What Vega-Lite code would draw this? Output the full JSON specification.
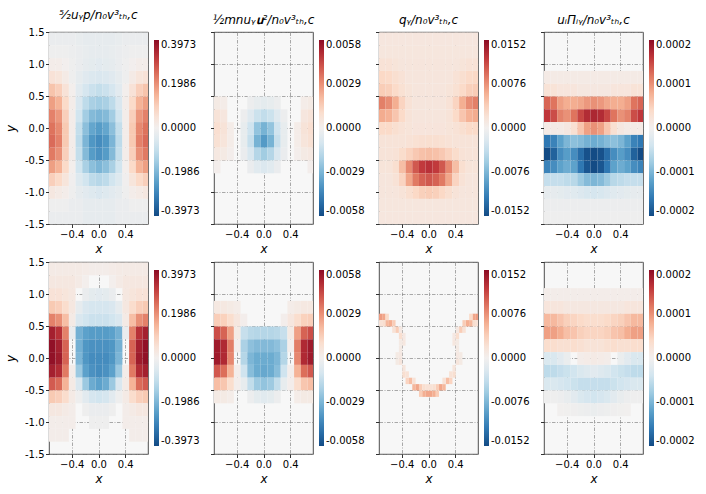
{
  "$schema": "https://vega.github.io/schema/vega-lite/v6.json",
  "background": "white",
  "padding": {"left": 4, "top": 8, "right": 5, "bottom": 5},
  "columns": 4,
  "spacing": {"row": 38, "column": 66},
  "bounds": "flush",
  "resolve": {"scale": {"color": "independent"}, "legend": {"color": "independent"}},
  "config": {
    "font": "DejaVu Sans",
    "view": {"stroke": "#222", "strokeWidth": 0.8, "fill": "#f7f7f7"},
    "rect": {"binSpacing": 0},
    "bar": {"binSpacing": 0},
    "axis": {
      "labelFont": "DejaVu Sans", "labelFontSize": 10, "labelColor": "#000",
      "labelPadding": 1.5, "labelFlush": false,
      "tickColor": "#000", "tickSize": 3.5, "tickWidth": 0.8,
      "domain": false, "grid": true, "gridColor": "#888", "gridDash": [3.5, 1.5, 1, 1.5],
      "gridWidth": 0.8, "gridOpacity": 0.9, "zindex": 1,
      "titleFont": "DejaVu Sans", "titleFontSize": 12, "titleFontWeight": "normal",
      "titleFontStyle": "italic", "titleColor": "#000", "titlePadding": 4
    },
    "legend": {"labelFont": "DejaVu Sans", "labelFontSize": 10, "labelColor": "#000", "gradientStrokeWidth": 0, "labelOffset": 5, "labelBaseline": "middle"},
    "title": {"font": "DejaVu Sans", "fontSize": 12, "fontWeight": "normal", "fontStyle": "italic", "color": "#000", "offset": 5}
  },
  "datasets": {
    "d1": [
      {"x":-0.75,"y":1.3,"v":-0.02},{"x":-0.65,"y":1.3,"v":-0.02},{"x":-0.55,"y":1.3,"v":-0.02},{"x":-0.45,"y":1.3,"v":-0.02},{"x":-0.35,"y":1.3,"v":-0.025},{"x":-0.25,"y":1.3,"v":-0.03},{"x":-0.15,"y":1.3,"v":-0.03},{"x":-0.05,"y":1.3,"v":-0.03},{"x":0.05,"y":1.3,"v":-0.03},{"x":0.15,"y":1.3,"v":-0.03},{"x":0.25,"y":1.3,"v":-0.025},{"x":0.35,"y":1.3,"v":-0.02},{"x":0.45,"y":1.3,"v":-0.02},{"x":0.55,"y":1.3,"v":-0.02},{"x":0.65,"y":1.3,"v":-0.02},
      {"x":-0.75,"y":1.1,"v":-0.01},{"x":-0.65,"y":1.1,"v":-0.01},{"x":-0.55,"y":1.1,"v":-0.01},{"x":-0.45,"y":1.1,"v":-0.015},{"x":-0.35,"y":1.1,"v":-0.02},{"x":-0.25,"y":1.1,"v":-0.025},{"x":-0.15,"y":1.1,"v":-0.03},{"x":-0.05,"y":1.1,"v":-0.03},{"x":0.05,"y":1.1,"v":-0.03},{"x":0.15,"y":1.1,"v":-0.025},{"x":0.25,"y":1.1,"v":-0.02},{"x":0.35,"y":1.1,"v":-0.015},{"x":0.45,"y":1.1,"v":-0.01},{"x":0.55,"y":1.1,"v":-0.01},{"x":0.65,"y":1.1,"v":-0.01},
      {"x":-0.75,"y":0.9,"v":0.01},{"x":-0.65,"y":0.9,"v":0.01},{"x":-0.55,"y":0.9,"v":0.002},{"x":-0.45,"y":0.9,"v":-0.01},{"x":-0.35,"y":0.9,"v":-0.02},{"x":-0.25,"y":0.9,"v":-0.03},{"x":-0.15,"y":0.9,"v":-0.035},{"x":-0.05,"y":0.9,"v":-0.04},{"x":0.05,"y":0.9,"v":-0.035},{"x":0.15,"y":0.9,"v":-0.03},{"x":0.25,"y":0.9,"v":-0.02},{"x":0.35,"y":0.9,"v":-0.01},{"x":0.45,"y":0.9,"v":0.002},{"x":0.55,"y":0.9,"v":0.01},{"x":0.65,"y":0.9,"v":0.01},
      {"x":-0.75,"y":0.7,"v":0.05},{"x":-0.65,"y":0.7,"v":0.04},{"x":-0.55,"y":0.7,"v":0.02},{"x":-0.45,"y":0.7,"v":-0.01},{"x":-0.35,"y":0.7,"v":-0.03},{"x":-0.25,"y":0.7,"v":-0.045},{"x":-0.15,"y":0.7,"v":-0.055},{"x":-0.05,"y":0.7,"v":-0.06},{"x":0.05,"y":0.7,"v":-0.055},{"x":0.15,"y":0.7,"v":-0.045},{"x":0.25,"y":0.7,"v":-0.03},{"x":0.35,"y":0.7,"v":-0.01},{"x":0.45,"y":0.7,"v":0.02},{"x":0.55,"y":0.7,"v":0.04},{"x":0.65,"y":0.7,"v":0.05},
      {"x":-0.75,"y":0.5,"v":0.12},{"x":-0.65,"y":0.5,"v":0.1},{"x":-0.55,"y":0.5,"v":0.05},{"x":-0.45,"y":0.5,"v":0.005},{"x":-0.35,"y":0.5,"v":-0.04},{"x":-0.25,"y":0.5,"v":-0.07},{"x":-0.15,"y":0.5,"v":-0.09},{"x":-0.05,"y":0.5,"v":-0.1},{"x":0.05,"y":0.5,"v":-0.09},{"x":0.15,"y":0.5,"v":-0.07},{"x":0.25,"y":0.5,"v":-0.04},{"x":0.35,"y":0.5,"v":0.005},{"x":0.45,"y":0.5,"v":0.05},{"x":0.55,"y":0.5,"v":0.1},{"x":0.65,"y":0.5,"v":0.12},
      {"x":-0.75,"y":0.3,"v":0.18},{"x":-0.65,"y":0.3,"v":0.15},{"x":-0.55,"y":0.3,"v":0.08},{"x":-0.45,"y":0.3,"v":0.01},{"x":-0.35,"y":0.3,"v":-0.06},{"x":-0.25,"y":0.3,"v":-0.11},{"x":-0.15,"y":0.3,"v":-0.14},{"x":-0.05,"y":0.3,"v":-0.15},{"x":0.05,"y":0.3,"v":-0.14},{"x":0.15,"y":0.3,"v":-0.11},{"x":0.25,"y":0.3,"v":-0.06},{"x":0.35,"y":0.3,"v":0.01},{"x":0.45,"y":0.3,"v":0.08},{"x":0.55,"y":0.3,"v":0.15},{"x":0.65,"y":0.3,"v":0.18},
      {"x":-0.75,"y":0.1,"v":0.22},{"x":-0.65,"y":0.1,"v":0.19},{"x":-0.55,"y":0.1,"v":0.1},{"x":-0.45,"y":0.1,"v":0.01},{"x":-0.35,"y":0.1,"v":-0.08},{"x":-0.25,"y":0.1,"v":-0.15},{"x":-0.15,"y":0.1,"v":-0.19},{"x":-0.05,"y":0.1,"v":-0.2},{"x":0.05,"y":0.1,"v":-0.19},{"x":0.15,"y":0.1,"v":-0.15},{"x":0.25,"y":0.1,"v":-0.08},{"x":0.35,"y":0.1,"v":0.01},{"x":0.45,"y":0.1,"v":0.1},{"x":0.55,"y":0.1,"v":0.19},{"x":0.65,"y":0.1,"v":0.22},
      {"x":-0.75,"y":-0.1,"v":0.24},{"x":-0.65,"y":-0.1,"v":0.21},{"x":-0.55,"y":-0.1,"v":0.11},{"x":-0.45,"y":-0.1,"v":0.01},{"x":-0.35,"y":-0.1,"v":-0.1},{"x":-0.25,"y":-0.1,"v":-0.18},{"x":-0.15,"y":-0.1,"v":-0.23},{"x":-0.05,"y":-0.1,"v":-0.25},{"x":0.05,"y":-0.1,"v":-0.23},{"x":0.15,"y":-0.1,"v":-0.18},{"x":0.25,"y":-0.1,"v":-0.1},{"x":0.35,"y":-0.1,"v":0.01},{"x":0.45,"y":-0.1,"v":0.11},{"x":0.55,"y":-0.1,"v":0.21},{"x":0.65,"y":-0.1,"v":0.24},
      {"x":-0.75,"y":-0.3,"v":0.25},{"x":-0.65,"y":-0.3,"v":0.22},{"x":-0.55,"y":-0.3,"v":0.11},{"x":-0.45,"y":-0.3,"v":0.01},{"x":-0.35,"y":-0.3,"v":-0.11},{"x":-0.25,"y":-0.3,"v":-0.2},{"x":-0.15,"y":-0.3,"v":-0.26},{"x":-0.05,"y":-0.3,"v":-0.28},{"x":0.05,"y":-0.3,"v":-0.26},{"x":0.15,"y":-0.3,"v":-0.2},{"x":0.25,"y":-0.3,"v":-0.11},{"x":0.35,"y":-0.3,"v":0.01},{"x":0.45,"y":-0.3,"v":0.11},{"x":0.55,"y":-0.3,"v":0.22},{"x":0.65,"y":-0.3,"v":0.25},
      {"x":-0.75,"y":-0.5,"v":0.23},{"x":-0.65,"y":-0.5,"v":0.2},{"x":-0.55,"y":-0.5,"v":0.1},{"x":-0.45,"y":-0.5,"v":0.01},{"x":-0.35,"y":-0.5,"v":-0.1},{"x":-0.25,"y":-0.5,"v":-0.19},{"x":-0.15,"y":-0.5,"v":-0.25},{"x":-0.05,"y":-0.5,"v":-0.27},{"x":0.05,"y":-0.5,"v":-0.25},{"x":0.15,"y":-0.5,"v":-0.19},{"x":0.25,"y":-0.5,"v":-0.1},{"x":0.35,"y":-0.5,"v":0.01},{"x":0.45,"y":-0.5,"v":0.1},{"x":0.55,"y":-0.5,"v":0.2},{"x":0.65,"y":-0.5,"v":0.23},
      {"x":-0.75,"y":-0.7,"v":0.18},{"x":-0.65,"y":-0.7,"v":0.15},{"x":-0.55,"y":-0.7,"v":0.08},{"x":-0.45,"y":-0.7,"v":0.005},{"x":-0.35,"y":-0.7,"v":-0.08},{"x":-0.25,"y":-0.7,"v":-0.14},{"x":-0.15,"y":-0.7,"v":-0.18},{"x":-0.05,"y":-0.7,"v":-0.2},{"x":0.05,"y":-0.7,"v":-0.18},{"x":0.15,"y":-0.7,"v":-0.14},{"x":0.25,"y":-0.7,"v":-0.08},{"x":0.35,"y":-0.7,"v":0.005},{"x":0.45,"y":-0.7,"v":0.08},{"x":0.55,"y":-0.7,"v":0.15},{"x":0.65,"y":-0.7,"v":0.18},
      {"x":-0.75,"y":-0.9,"v":0.1},{"x":-0.65,"y":-0.9,"v":0.08},{"x":-0.55,"y":-0.9,"v":0.04},{"x":-0.45,"y":-0.9,"v":-0.005},{"x":-0.35,"y":-0.9,"v":-0.05},{"x":-0.25,"y":-0.9,"v":-0.08},{"x":-0.15,"y":-0.9,"v":-0.11},{"x":-0.05,"y":-0.9,"v":-0.12},{"x":0.05,"y":-0.9,"v":-0.11},{"x":0.15,"y":-0.9,"v":-0.08},{"x":0.25,"y":-0.9,"v":-0.05},{"x":0.35,"y":-0.9,"v":-0.005},{"x":0.45,"y":-0.9,"v":0.04},{"x":0.55,"y":-0.9,"v":0.08},{"x":0.65,"y":-0.9,"v":0.1},
      {"x":-0.75,"y":-1.1,"v":0.03},{"x":-0.65,"y":-1.1,"v":0.02},{"x":-0.55,"y":-1.1,"v":0.01},{"x":-0.45,"y":-1.1,"v":-0.01},{"x":-0.35,"y":-1.1,"v":-0.03},{"x":-0.25,"y":-1.1,"v":-0.04},{"x":-0.15,"y":-1.1,"v":-0.05},{"x":-0.05,"y":-1.1,"v":-0.06},{"x":0.05,"y":-1.1,"v":-0.05},{"x":0.15,"y":-1.1,"v":-0.04},{"x":0.25,"y":-1.1,"v":-0.03},{"x":0.35,"y":-1.1,"v":-0.01},{"x":0.45,"y":-1.1,"v":0.01},{"x":0.55,"y":-1.1,"v":0.02},{"x":0.65,"y":-1.1,"v":0.03},
      {"x":-0.75,"y":-1.3,"v":-0.01},{"x":-0.65,"y":-1.3,"v":-0.01},{"x":-0.55,"y":-1.3,"v":-0.01},{"x":-0.45,"y":-1.3,"v":-0.02},{"x":-0.35,"y":-1.3,"v":-0.02},{"x":-0.25,"y":-1.3,"v":-0.03},{"x":-0.15,"y":-1.3,"v":-0.03},{"x":-0.05,"y":-1.3,"v":-0.03},{"x":0.05,"y":-1.3,"v":-0.03},{"x":0.15,"y":-1.3,"v":-0.03},{"x":0.25,"y":-1.3,"v":-0.02},{"x":0.35,"y":-1.3,"v":-0.02},{"x":0.45,"y":-1.3,"v":-0.01},{"x":0.55,"y":-1.3,"v":-0.01},{"x":0.65,"y":-1.3,"v":-0.01},
      {"x":-0.75,"y":-1.5,"v":-0.02},{"x":-0.65,"y":-1.5,"v":-0.02},{"x":-0.55,"y":-1.5,"v":-0.02},{"x":-0.45,"y":-1.5,"v":-0.02},{"x":-0.35,"y":-1.5,"v":-0.02},{"x":-0.25,"y":-1.5,"v":-0.03},{"x":-0.15,"y":-1.5,"v":-0.03},{"x":-0.05,"y":-1.5,"v":-0.03},{"x":0.05,"y":-1.5,"v":-0.03},{"x":0.15,"y":-1.5,"v":-0.03},{"x":0.25,"y":-1.5,"v":-0.02},{"x":0.35,"y":-1.5,"v":-0.02},{"x":0.45,"y":-1.5,"v":-0.02},{"x":0.55,"y":-1.5,"v":-0.02},{"x":0.65,"y":-1.5,"v":-0.02}
    ],
    "d2": [
      {"x":-0.75,"y":0.3,"v":0.0003},{"x":-0.65,"y":0.3,"v":0.0002},{"x":-0.25,"y":0.3,"v":-0.0002},{"x":-0.15,"y":0.3,"v":-0.0004},{"x":-0.05,"y":0.3,"v":-0.0005},{"x":0.05,"y":0.3,"v":-0.0004},{"x":0.15,"y":0.3,"v":-0.0002},{"x":0.55,"y":0.3,"v":0.0002},{"x":0.65,"y":0.3,"v":0.0003},
      {"x":-0.75,"y":0.1,"v":0.0007},{"x":-0.65,"y":0.1,"v":0.0005},{"x":-0.35,"y":0.1,"v":-0.0002},{"x":-0.25,"y":0.1,"v":-0.0007},{"x":-0.15,"y":0.1,"v":-0.0013},{"x":-0.05,"y":0.1,"v":-0.0015},{"x":0.05,"y":0.1,"v":-0.0013},{"x":0.15,"y":0.1,"v":-0.0007},{"x":0.25,"y":0.1,"v":-0.0002},{"x":0.55,"y":0.1,"v":0.0005},{"x":0.65,"y":0.1,"v":0.0007},
      {"x":-0.75,"y":-0.1,"v":0.0009},{"x":-0.65,"y":-0.1,"v":0.0007},{"x":-0.55,"y":-0.1,"v":0.0002},{"x":-0.35,"y":-0.1,"v":-0.0004},{"x":-0.25,"y":-0.1,"v":-0.0012},{"x":-0.15,"y":-0.1,"v":-0.0025},{"x":-0.05,"y":-0.1,"v":-0.003},{"x":0.05,"y":-0.1,"v":-0.0025},{"x":0.15,"y":-0.1,"v":-0.0012},{"x":0.25,"y":-0.1,"v":-0.0004},{"x":0.45,"y":-0.1,"v":0.0002},{"x":0.55,"y":-0.1,"v":0.0007},{"x":0.65,"y":-0.1,"v":0.0009},
      {"x":-0.75,"y":-0.3,"v":0.0008},{"x":-0.65,"y":-0.3,"v":0.0006},{"x":-0.55,"y":-0.3,"v":0.0002},{"x":-0.35,"y":-0.3,"v":-0.0004},{"x":-0.25,"y":-0.3,"v":-0.0014},{"x":-0.15,"y":-0.3,"v":-0.003},{"x":-0.05,"y":-0.3,"v":-0.0037},{"x":0.05,"y":-0.3,"v":-0.003},{"x":0.15,"y":-0.3,"v":-0.0014},{"x":0.25,"y":-0.3,"v":-0.0004},{"x":0.45,"y":-0.3,"v":0.0002},{"x":0.55,"y":-0.3,"v":0.0006},{"x":0.65,"y":-0.3,"v":0.0008},
      {"x":-0.75,"y":-0.5,"v":0.0004},{"x":-0.65,"y":-0.5,"v":0.0003},{"x":-0.55,"y":-0.5,"v":0.0001},{"x":-0.35,"y":-0.5,"v":-0.0003},{"x":-0.25,"y":-0.5,"v":-0.0009},{"x":-0.15,"y":-0.5,"v":-0.0018},{"x":-0.05,"y":-0.5,"v":-0.0022},{"x":0.05,"y":-0.5,"v":-0.0018},{"x":0.15,"y":-0.5,"v":-0.0009},{"x":0.25,"y":-0.5,"v":-0.0003},{"x":0.45,"y":-0.5,"v":0.0001},{"x":0.55,"y":-0.5,"v":0.0003},{"x":0.65,"y":-0.5,"v":0.0004},
      {"x":-0.75,"y":-0.7,"v":0.0001},{"x":-0.25,"y":-0.7,"v":-0.0003},{"x":-0.15,"y":-0.7,"v":-0.0006},{"x":-0.05,"y":-0.7,"v":-0.0008},{"x":0.05,"y":-0.7,"v":-0.0006},{"x":0.15,"y":-0.7,"v":-0.0003},{"x":0.65,"y":-0.7,"v":0.0001}
    ],
    "d3": [
      {"x":-0.75,"y":1.3,"v":0.0013},{"x":-0.65,"y":1.3,"v":0.0013},{"x":-0.55,"y":1.3,"v":0.0013},{"x":-0.45,"y":1.3,"v":0.0013},{"x":-0.35,"y":1.3,"v":0.0013},{"x":-0.25,"y":1.3,"v":0.0013},{"x":-0.15,"y":1.3,"v":0.0013},{"x":-0.05,"y":1.3,"v":0.0013},{"x":0.05,"y":1.3,"v":0.0013},{"x":0.15,"y":1.3,"v":0.0013},{"x":0.25,"y":1.3,"v":0.0013},{"x":0.35,"y":1.3,"v":0.0013},{"x":0.45,"y":1.3,"v":0.0013},{"x":0.55,"y":1.3,"v":0.0013},{"x":0.65,"y":1.3,"v":0.0013},
      {"x":-0.75,"y":1.1,"v":0.0014},{"x":-0.65,"y":1.1,"v":0.0014},{"x":-0.55,"y":1.1,"v":0.0014},{"x":-0.45,"y":1.1,"v":0.0014},{"x":-0.35,"y":1.1,"v":0.0014},{"x":-0.25,"y":1.1,"v":0.0014},{"x":-0.15,"y":1.1,"v":0.0014},{"x":-0.05,"y":1.1,"v":0.0014},{"x":0.05,"y":1.1,"v":0.0014},{"x":0.15,"y":1.1,"v":0.0014},{"x":0.25,"y":1.1,"v":0.0014},{"x":0.35,"y":1.1,"v":0.0014},{"x":0.45,"y":1.1,"v":0.0014},{"x":0.55,"y":1.1,"v":0.0014},{"x":0.65,"y":1.1,"v":0.0014},
      {"x":-0.75,"y":0.9,"v":0.002},{"x":-0.65,"y":0.9,"v":0.002},{"x":-0.55,"y":0.9,"v":0.0017},{"x":-0.45,"y":0.9,"v":0.0015},{"x":-0.35,"y":0.9,"v":0.0015},{"x":-0.25,"y":0.9,"v":0.0015},{"x":-0.15,"y":0.9,"v":0.0015},{"x":-0.05,"y":0.9,"v":0.0015},{"x":0.05,"y":0.9,"v":0.0015},{"x":0.15,"y":0.9,"v":0.0015},{"x":0.25,"y":0.9,"v":0.0015},{"x":0.35,"y":0.9,"v":0.0015},{"x":0.45,"y":0.9,"v":0.0017},{"x":0.55,"y":0.9,"v":0.002},{"x":0.65,"y":0.9,"v":0.002},
      {"x":-0.75,"y":0.7,"v":0.0032},{"x":-0.65,"y":0.7,"v":0.003},{"x":-0.55,"y":0.7,"v":0.0025},{"x":-0.45,"y":0.7,"v":0.002},{"x":-0.35,"y":0.7,"v":0.0015},{"x":-0.25,"y":0.7,"v":0.0015},{"x":-0.15,"y":0.7,"v":0.0015},{"x":-0.05,"y":0.7,"v":0.0015},{"x":0.05,"y":0.7,"v":0.0015},{"x":0.15,"y":0.7,"v":0.0015},{"x":0.25,"y":0.7,"v":0.0015},{"x":0.35,"y":0.7,"v":0.002},{"x":0.45,"y":0.7,"v":0.0025},{"x":0.55,"y":0.7,"v":0.003},{"x":0.65,"y":0.7,"v":0.0032},
      {"x":-0.75,"y":0.5,"v":0.004},{"x":-0.65,"y":0.5,"v":0.0038},{"x":-0.55,"y":0.5,"v":0.003},{"x":-0.45,"y":0.5,"v":0.0022},{"x":-0.35,"y":0.5,"v":0.0017},{"x":-0.25,"y":0.5,"v":0.0015},{"x":-0.15,"y":0.5,"v":0.0015},{"x":-0.05,"y":0.5,"v":0.0015},{"x":0.05,"y":0.5,"v":0.0015},{"x":0.15,"y":0.5,"v":0.0015},{"x":0.25,"y":0.5,"v":0.0017},{"x":0.35,"y":0.5,"v":0.0022},{"x":0.45,"y":0.5,"v":0.003},{"x":0.55,"y":0.5,"v":0.0038},{"x":0.65,"y":0.5,"v":0.004},
      {"x":-0.75,"y":0.3,"v":0.0085},{"x":-0.65,"y":0.3,"v":0.0078},{"x":-0.55,"y":0.3,"v":0.006},{"x":-0.45,"y":0.3,"v":0.0035},{"x":-0.35,"y":0.3,"v":0.002},{"x":-0.25,"y":0.3,"v":0.0015},{"x":-0.15,"y":0.3,"v":0.0015},{"x":-0.05,"y":0.3,"v":0.0015},{"x":0.05,"y":0.3,"v":0.0015},{"x":0.15,"y":0.3,"v":0.0015},{"x":0.25,"y":0.3,"v":0.002},{"x":0.35,"y":0.3,"v":0.0035},{"x":0.45,"y":0.3,"v":0.006},{"x":0.55,"y":0.3,"v":0.0078},{"x":0.65,"y":0.3,"v":0.0085},
      {"x":-0.75,"y":0.1,"v":0.0062},{"x":-0.65,"y":0.1,"v":0.0058},{"x":-0.55,"y":0.1,"v":0.0045},{"x":-0.45,"y":0.1,"v":0.003},{"x":-0.35,"y":0.1,"v":0.0018},{"x":-0.25,"y":0.1,"v":0.0015},{"x":-0.15,"y":0.1,"v":0.0015},{"x":-0.05,"y":0.1,"v":0.0015},{"x":0.05,"y":0.1,"v":0.0015},{"x":0.15,"y":0.1,"v":0.0015},{"x":0.25,"y":0.1,"v":0.0018},{"x":0.35,"y":0.1,"v":0.003},{"x":0.45,"y":0.1,"v":0.0045},{"x":0.55,"y":0.1,"v":0.0058},{"x":0.65,"y":0.1,"v":0.0062},
      {"x":-0.75,"y":-0.1,"v":0.003},{"x":-0.65,"y":-0.1,"v":0.003},{"x":-0.55,"y":-0.1,"v":0.0025},{"x":-0.45,"y":-0.1,"v":0.002},{"x":-0.35,"y":-0.1,"v":0.0017},{"x":-0.25,"y":-0.1,"v":0.0016},{"x":-0.15,"y":-0.1,"v":0.0016},{"x":-0.05,"y":-0.1,"v":0.0016},{"x":0.05,"y":-0.1,"v":0.0016},{"x":0.15,"y":-0.1,"v":0.0016},{"x":0.25,"y":-0.1,"v":0.0017},{"x":0.35,"y":-0.1,"v":0.002},{"x":0.45,"y":-0.1,"v":0.0025},{"x":0.55,"y":-0.1,"v":0.003},{"x":0.65,"y":-0.1,"v":0.003},
      {"x":-0.75,"y":-0.3,"v":0.0018},{"x":-0.65,"y":-0.3,"v":0.0018},{"x":-0.55,"y":-0.3,"v":0.0018},{"x":-0.45,"y":-0.3,"v":0.0018},{"x":-0.35,"y":-0.3,"v":0.002},{"x":-0.25,"y":-0.3,"v":0.0022},{"x":-0.15,"y":-0.3,"v":0.0024},{"x":-0.05,"y":-0.3,"v":0.0025},{"x":0.05,"y":-0.3,"v":0.0024},{"x":0.15,"y":-0.3,"v":0.0022},{"x":0.25,"y":-0.3,"v":0.002},{"x":0.35,"y":-0.3,"v":0.0018},{"x":0.45,"y":-0.3,"v":0.0018},{"x":0.55,"y":-0.3,"v":0.0018},{"x":0.65,"y":-0.3,"v":0.0018},
      {"x":-0.75,"y":-0.5,"v":0.0018},{"x":-0.65,"y":-0.5,"v":0.0018},{"x":-0.55,"y":-0.5,"v":0.002},{"x":-0.45,"y":-0.5,"v":0.0028},{"x":-0.35,"y":-0.5,"v":0.0036},{"x":-0.25,"y":-0.5,"v":0.0043},{"x":-0.15,"y":-0.5,"v":0.0048},{"x":-0.05,"y":-0.5,"v":0.005},{"x":0.05,"y":-0.5,"v":0.0048},{"x":0.15,"y":-0.5,"v":0.0043},{"x":0.25,"y":-0.5,"v":0.0036},{"x":0.35,"y":-0.5,"v":0.0028},{"x":0.45,"y":-0.5,"v":0.002},{"x":0.55,"y":-0.5,"v":0.0018},{"x":0.65,"y":-0.5,"v":0.0018},
      {"x":-0.75,"y":-0.7,"v":0.0017},{"x":-0.65,"y":-0.7,"v":0.0017},{"x":-0.55,"y":-0.7,"v":0.0025},{"x":-0.45,"y":-0.7,"v":0.005},{"x":-0.35,"y":-0.7,"v":0.008},{"x":-0.25,"y":-0.7,"v":0.0105},{"x":-0.15,"y":-0.7,"v":0.012},{"x":-0.05,"y":-0.7,"v":0.0125},{"x":0.05,"y":-0.7,"v":0.012},{"x":0.15,"y":-0.7,"v":0.0105},{"x":0.25,"y":-0.7,"v":0.008},{"x":0.35,"y":-0.7,"v":0.005},{"x":0.45,"y":-0.7,"v":0.0025},{"x":0.55,"y":-0.7,"v":0.0017},{"x":0.65,"y":-0.7,"v":0.0017},
      {"x":-0.75,"y":-0.9,"v":0.0015},{"x":-0.65,"y":-0.9,"v":0.0015},{"x":-0.55,"y":-0.9,"v":0.002},{"x":-0.45,"y":-0.9,"v":0.0035},{"x":-0.35,"y":-0.9,"v":0.0065},{"x":-0.25,"y":-0.9,"v":0.0088},{"x":-0.15,"y":-0.9,"v":0.01},{"x":-0.05,"y":-0.9,"v":0.0105},{"x":0.05,"y":-0.9,"v":0.01},{"x":0.15,"y":-0.9,"v":0.0088},{"x":0.25,"y":-0.9,"v":0.0065},{"x":0.35,"y":-0.9,"v":0.0035},{"x":0.45,"y":-0.9,"v":0.002},{"x":0.55,"y":-0.9,"v":0.0015},{"x":0.65,"y":-0.9,"v":0.0015},
      {"x":-0.75,"y":-1.1,"v":0.0015},{"x":-0.65,"y":-1.1,"v":0.0015},{"x":-0.55,"y":-1.1,"v":0.0015},{"x":-0.45,"y":-1.1,"v":0.0018},{"x":-0.35,"y":-1.1,"v":0.0025},{"x":-0.25,"y":-1.1,"v":0.0032},{"x":-0.15,"y":-1.1,"v":0.0038},{"x":-0.05,"y":-1.1,"v":0.004},{"x":0.05,"y":-1.1,"v":0.0038},{"x":0.15,"y":-1.1,"v":0.0032},{"x":0.25,"y":-1.1,"v":0.0025},{"x":0.35,"y":-1.1,"v":0.0018},{"x":0.45,"y":-1.1,"v":0.0015},{"x":0.55,"y":-1.1,"v":0.0015},{"x":0.65,"y":-1.1,"v":0.0015},
      {"x":-0.75,"y":-1.3,"v":0.0014},{"x":-0.65,"y":-1.3,"v":0.0014},{"x":-0.55,"y":-1.3,"v":0.0014},{"x":-0.45,"y":-1.3,"v":0.0014},{"x":-0.35,"y":-1.3,"v":0.0014},{"x":-0.25,"y":-1.3,"v":0.0014},{"x":-0.15,"y":-1.3,"v":0.0014},{"x":-0.05,"y":-1.3,"v":0.0014},{"x":0.05,"y":-1.3,"v":0.0014},{"x":0.15,"y":-1.3,"v":0.0014},{"x":0.25,"y":-1.3,"v":0.0014},{"x":0.35,"y":-1.3,"v":0.0014},{"x":0.45,"y":-1.3,"v":0.0014},{"x":0.55,"y":-1.3,"v":0.0014},{"x":0.65,"y":-1.3,"v":0.0014},
      {"x":-0.75,"y":-1.5,"v":0.0013},{"x":-0.65,"y":-1.5,"v":0.0013},{"x":-0.55,"y":-1.5,"v":0.0013},{"x":-0.45,"y":-1.5,"v":0.0013},{"x":-0.35,"y":-1.5,"v":0.0013},{"x":-0.25,"y":-1.5,"v":0.0013},{"x":-0.15,"y":-1.5,"v":0.0013},{"x":-0.05,"y":-1.5,"v":0.0013},{"x":0.05,"y":-1.5,"v":0.0013},{"x":0.15,"y":-1.5,"v":0.0013},{"x":0.25,"y":-1.5,"v":0.0013},{"x":0.35,"y":-1.5,"v":0.0013},{"x":0.45,"y":-1.5,"v":0.0013},{"x":0.55,"y":-1.5,"v":0.0013},{"x":0.65,"y":-1.5,"v":0.0013}
    ],
    "d4": [
      {"x":-0.75,"y":0.7,"v":1e-5},{"x":-0.65,"y":0.7,"v":1e-5},{"x":-0.55,"y":0.7,"v":1e-5},{"x":-0.45,"y":0.7,"v":1e-5},{"x":-0.35,"y":0.7,"v":1e-5},{"x":-0.25,"y":0.7,"v":1e-5},{"x":-0.15,"y":0.7,"v":1e-5},{"x":-0.05,"y":0.7,"v":1e-5},{"x":0.05,"y":0.7,"v":1e-5},{"x":0.15,"y":0.7,"v":1e-5},{"x":0.25,"y":0.7,"v":1e-5},{"x":0.35,"y":0.7,"v":1e-5},{"x":0.45,"y":0.7,"v":1e-5},{"x":0.55,"y":0.7,"v":1e-5},{"x":0.65,"y":0.7,"v":1e-5},
      {"x":-0.75,"y":0.5,"v":0.25e-4},{"x":-0.65,"y":0.5,"v":0.25e-4},{"x":-0.55,"y":0.5,"v":0.2e-4},{"x":-0.45,"y":0.5,"v":0.2e-4},{"x":-0.35,"y":0.5,"v":0.2e-4},{"x":-0.25,"y":0.5,"v":0.15e-4},{"x":-0.15,"y":0.5,"v":0.15e-4},{"x":-0.05,"y":0.5,"v":0.15e-4},{"x":0.05,"y":0.5,"v":0.15e-4},{"x":0.15,"y":0.5,"v":0.15e-4},{"x":0.25,"y":0.5,"v":0.2e-4},{"x":0.35,"y":0.5,"v":0.2e-4},{"x":0.45,"y":0.5,"v":0.2e-4},{"x":0.55,"y":0.5,"v":0.25e-4},{"x":0.65,"y":0.5,"v":0.25e-4},
      {"x":-0.75,"y":0.3,"v":1.3e-4},{"x":-0.65,"y":0.3,"v":1.2e-4},{"x":-0.55,"y":0.3,"v":0.9e-4},{"x":-0.45,"y":0.3,"v":0.8e-4},{"x":-0.35,"y":0.3,"v":0.8e-4},{"x":-0.25,"y":0.3,"v":0.85e-4},{"x":-0.15,"y":0.3,"v":0.95e-4},{"x":-0.05,"y":0.3,"v":1.0e-4},{"x":0.05,"y":0.3,"v":0.95e-4},{"x":0.15,"y":0.3,"v":0.85e-4},{"x":0.25,"y":0.3,"v":0.8e-4},{"x":0.35,"y":0.3,"v":0.8e-4},{"x":0.45,"y":0.3,"v":0.9e-4},{"x":0.55,"y":0.3,"v":1.2e-4},{"x":0.65,"y":0.3,"v":1.3e-4},
      {"x":-0.75,"y":0.1,"v":1.6e-4},{"x":-0.65,"y":0.1,"v":1.45e-4},{"x":-0.55,"y":0.1,"v":1.1e-4},{"x":-0.45,"y":0.1,"v":1.0e-4},{"x":-0.35,"y":0.1,"v":1.2e-4},{"x":-0.25,"y":0.1,"v":1.5e-4},{"x":-0.15,"y":0.1,"v":1.7e-4},{"x":-0.05,"y":0.1,"v":1.75e-4},{"x":0.05,"y":0.1,"v":1.7e-4},{"x":0.15,"y":0.1,"v":1.5e-4},{"x":0.25,"y":0.1,"v":1.2e-4},{"x":0.35,"y":0.1,"v":1.0e-4},{"x":0.45,"y":0.1,"v":1.1e-4},{"x":0.55,"y":0.1,"v":1.45e-4},{"x":0.65,"y":0.1,"v":1.6e-4},
      {"x":-0.75,"y":-0.1,"v":0.1e-4},{"x":-0.65,"y":-0.1,"v":0.1e-4},{"x":-0.55,"y":-0.1,"v":0.1e-4},{"x":-0.45,"y":-0.1,"v":0.15e-4},{"x":-0.35,"y":-0.1,"v":0.3e-4},{"x":-0.25,"y":-0.1,"v":0.6e-4},{"x":-0.15,"y":-0.1,"v":0.9e-4},{"x":-0.05,"y":-0.1,"v":1.0e-4},{"x":0.05,"y":-0.1,"v":0.9e-4},{"x":0.15,"y":-0.1,"v":0.6e-4},{"x":0.25,"y":-0.1,"v":0.3e-4},{"x":0.35,"y":-0.1,"v":0.15e-4},{"x":0.45,"y":-0.1,"v":0.1e-4},{"x":0.55,"y":-0.1,"v":0.1e-4},{"x":0.65,"y":-0.1,"v":0.1e-4},
      {"x":-0.75,"y":-0.3,"v":-1.6e-4},{"x":-0.65,"y":-0.3,"v":-1.5e-4},{"x":-0.55,"y":-0.3,"v":-1.2e-4},{"x":-0.45,"y":-0.3,"v":-1.0e-4},{"x":-0.35,"y":-0.3,"v":-0.9e-4},{"x":-0.25,"y":-0.3,"v":-0.95e-4},{"x":-0.15,"y":-0.3,"v":-1.05e-4},{"x":-0.05,"y":-0.3,"v":-1.1e-4},{"x":0.05,"y":-0.3,"v":-1.05e-4},{"x":0.15,"y":-0.3,"v":-0.95e-4},{"x":0.25,"y":-0.3,"v":-0.9e-4},{"x":0.35,"y":-0.3,"v":-1.0e-4},{"x":0.45,"y":-0.3,"v":-1.2e-4},{"x":0.55,"y":-0.3,"v":-1.5e-4},{"x":0.65,"y":-0.3,"v":-1.6e-4},
      {"x":-0.75,"y":-0.5,"v":-2.0e-4},{"x":-0.65,"y":-0.5,"v":-1.8e-4},{"x":-0.55,"y":-0.5,"v":-1.4e-4},{"x":-0.45,"y":-0.5,"v":-1.25e-4},{"x":-0.35,"y":-0.5,"v":-1.4e-4},{"x":-0.25,"y":-0.5,"v":-1.7e-4},{"x":-0.15,"y":-0.5,"v":-1.95e-4},{"x":-0.05,"y":-0.5,"v":-2.0e-4},{"x":0.05,"y":-0.5,"v":-1.95e-4},{"x":0.15,"y":-0.5,"v":-1.7e-4},{"x":0.25,"y":-0.5,"v":-1.4e-4},{"x":0.35,"y":-0.5,"v":-1.25e-4},{"x":0.45,"y":-0.5,"v":-1.4e-4},{"x":0.55,"y":-0.5,"v":-1.8e-4},{"x":0.65,"y":-0.5,"v":-2.0e-4},
      {"x":-0.75,"y":-0.7,"v":-1.5e-4},{"x":-0.65,"y":-0.7,"v":-1.4e-4},{"x":-0.55,"y":-0.7,"v":-1.2e-4},{"x":-0.45,"y":-0.7,"v":-1.1e-4},{"x":-0.35,"y":-0.7,"v":-1.2e-4},{"x":-0.25,"y":-0.7,"v":-1.6e-4},{"x":-0.15,"y":-0.7,"v":-1.9e-4},{"x":-0.05,"y":-0.7,"v":-2.0e-4},{"x":0.05,"y":-0.7,"v":-1.9e-4},{"x":0.15,"y":-0.7,"v":-1.6e-4},{"x":0.25,"y":-0.7,"v":-1.2e-4},{"x":0.35,"y":-0.7,"v":-1.1e-4},{"x":0.45,"y":-0.7,"v":-1.2e-4},{"x":0.55,"y":-0.7,"v":-1.4e-4},{"x":0.65,"y":-0.7,"v":-1.5e-4},
      {"x":-0.75,"y":-0.9,"v":-0.5e-4},{"x":-0.65,"y":-0.9,"v":-0.5e-4},{"x":-0.55,"y":-0.9,"v":-0.5e-4},{"x":-0.45,"y":-0.9,"v":-0.55e-4},{"x":-0.35,"y":-0.9,"v":-0.6e-4},{"x":-0.25,"y":-0.9,"v":-0.8e-4},{"x":-0.15,"y":-0.9,"v":-0.95e-4},{"x":-0.05,"y":-0.9,"v":-1.0e-4},{"x":0.05,"y":-0.9,"v":-0.95e-4},{"x":0.15,"y":-0.9,"v":-0.8e-4},{"x":0.25,"y":-0.9,"v":-0.6e-4},{"x":0.35,"y":-0.9,"v":-0.55e-4},{"x":0.45,"y":-0.9,"v":-0.5e-4},{"x":0.55,"y":-0.9,"v":-0.5e-4},{"x":0.65,"y":-0.9,"v":-0.5e-4},
      {"x":-0.75,"y":-1.1,"v":-0.15e-4},{"x":-0.65,"y":-1.1,"v":-0.15e-4},{"x":-0.55,"y":-1.1,"v":-0.18e-4},{"x":-0.45,"y":-1.1,"v":-0.2e-4},{"x":-0.35,"y":-1.1,"v":-0.22e-4},{"x":-0.25,"y":-1.1,"v":-0.28e-4},{"x":-0.15,"y":-1.1,"v":-0.33e-4},{"x":-0.05,"y":-1.1,"v":-0.35e-4},{"x":0.05,"y":-1.1,"v":-0.33e-4},{"x":0.15,"y":-1.1,"v":-0.28e-4},{"x":0.25,"y":-1.1,"v":-0.22e-4},{"x":0.35,"y":-1.1,"v":-0.2e-4},{"x":0.45,"y":-1.1,"v":-0.18e-4},{"x":0.55,"y":-1.1,"v":-0.15e-4},{"x":0.65,"y":-1.1,"v":-0.15e-4},
      {"x":-0.75,"y":-1.3,"v":-0.08e-4},{"x":-0.65,"y":-1.3,"v":-0.08e-4},{"x":-0.55,"y":-1.3,"v":-0.08e-4},{"x":-0.45,"y":-1.3,"v":-0.08e-4},{"x":-0.35,"y":-1.3,"v":-0.08e-4},{"x":-0.25,"y":-1.3,"v":-0.08e-4},{"x":-0.15,"y":-1.3,"v":-0.08e-4},{"x":-0.05,"y":-1.3,"v":-0.08e-4},{"x":0.05,"y":-1.3,"v":-0.08e-4},{"x":0.15,"y":-1.3,"v":-0.08e-4},{"x":0.25,"y":-1.3,"v":-0.08e-4},{"x":0.35,"y":-1.3,"v":-0.08e-4},{"x":0.45,"y":-1.3,"v":-0.08e-4},{"x":0.55,"y":-1.3,"v":-0.08e-4},{"x":0.65,"y":-1.3,"v":-0.08e-4},
      {"x":-0.75,"y":-1.5,"v":-0.05e-4},{"x":-0.65,"y":-1.5,"v":-0.05e-4},{"x":-0.55,"y":-1.5,"v":-0.05e-4},{"x":-0.45,"y":-1.5,"v":-0.05e-4},{"x":-0.35,"y":-1.5,"v":-0.05e-4},{"x":-0.25,"y":-1.5,"v":-0.05e-4},{"x":-0.15,"y":-1.5,"v":-0.05e-4},{"x":-0.05,"y":-1.5,"v":-0.05e-4},{"x":0.05,"y":-1.5,"v":-0.05e-4},{"x":0.15,"y":-1.5,"v":-0.05e-4},{"x":0.25,"y":-1.5,"v":-0.05e-4},{"x":0.35,"y":-1.5,"v":-0.05e-4},{"x":0.45,"y":-1.5,"v":-0.05e-4},{"x":0.55,"y":-1.5,"v":-0.05e-4},{"x":0.65,"y":-1.5,"v":-0.05e-4}
    ],
    "d5": [
      {"x":-0.75,"y":1.3,"v":0.02},{"x":-0.65,"y":1.3,"v":0.02},{"x":-0.55,"y":1.3,"v":0.02},{"x":-0.45,"y":1.3,"v":0.02},{"x":-0.35,"y":1.3,"v":0.02},{"x":-0.25,"y":1.3,"v":0.015},{"x":-0.15,"y":1.3,"v":0.01},{"x":-0.05,"y":1.3,"v":0.01},{"x":0.05,"y":1.3,"v":0.01},{"x":0.15,"y":1.3,"v":0.015},{"x":0.25,"y":1.3,"v":0.02},{"x":0.35,"y":1.3,"v":0.02},{"x":0.45,"y":1.3,"v":0.02},{"x":0.55,"y":1.3,"v":0.02},{"x":0.65,"y":1.3,"v":0.02},
      {"x":-0.75,"y":1.1,"v":0.03},{"x":-0.65,"y":1.1,"v":0.03},{"x":-0.55,"y":1.1,"v":0.03},{"x":-0.45,"y":1.1,"v":0.03},{"x":-0.35,"y":1.1,"v":0.02},{"x":-0.25,"y":1.1,"v":0.005},{"x":0.15,"y":1.1,"v":0.005},{"x":0.25,"y":1.1,"v":0.02},{"x":0.35,"y":1.1,"v":0.03},{"x":0.45,"y":1.1,"v":0.03},{"x":0.55,"y":1.1,"v":0.03},{"x":0.65,"y":1.1,"v":0.03},
      {"x":-0.75,"y":0.9,"v":0.05},{"x":-0.65,"y":0.9,"v":0.05},{"x":-0.55,"y":0.9,"v":0.04},{"x":-0.45,"y":0.9,"v":0.03},{"x":-0.25,"y":0.9,"v":-0.02},{"x":-0.15,"y":0.9,"v":-0.035},{"x":-0.05,"y":0.9,"v":-0.04},{"x":0.05,"y":0.9,"v":-0.035},{"x":0.15,"y":0.9,"v":-0.02},{"x":0.35,"y":0.9,"v":0.03},{"x":0.45,"y":0.9,"v":0.04},{"x":0.55,"y":0.9,"v":0.05},{"x":0.65,"y":0.9,"v":0.05},
      {"x":-0.75,"y":0.7,"v":0.11},{"x":-0.65,"y":0.7,"v":0.1},{"x":-0.55,"y":0.7,"v":0.07},{"x":-0.45,"y":0.7,"v":0.03},{"x":-0.35,"y":0.7,"v":-0.03},{"x":-0.25,"y":0.7,"v":-0.06},{"x":-0.15,"y":0.7,"v":-0.07},{"x":-0.05,"y":0.7,"v":-0.07},{"x":0.05,"y":0.7,"v":-0.07},{"x":0.15,"y":0.7,"v":-0.06},{"x":0.25,"y":0.7,"v":-0.03},{"x":0.35,"y":0.7,"v":0.03},{"x":0.45,"y":0.7,"v":0.07},{"x":0.55,"y":0.7,"v":0.1},{"x":0.65,"y":0.7,"v":0.11},
      {"x":-0.75,"y":0.5,"v":0.22},{"x":-0.65,"y":0.5,"v":0.2},{"x":-0.55,"y":0.5,"v":0.13},{"x":-0.45,"y":0.5,"v":0.02},{"x":-0.35,"y":0.5,"v":-0.06},{"x":-0.25,"y":0.5,"v":-0.08},{"x":-0.15,"y":0.5,"v":-0.09},{"x":-0.05,"y":0.5,"v":-0.09},{"x":0.05,"y":0.5,"v":-0.09},{"x":0.15,"y":0.5,"v":-0.08},{"x":0.25,"y":0.5,"v":-0.06},{"x":0.35,"y":0.5,"v":0.02},{"x":0.45,"y":0.5,"v":0.13},{"x":0.55,"y":0.5,"v":0.2},{"x":0.65,"y":0.5,"v":0.22},
      {"x":-0.75,"y":0.3,"v":0.36},{"x":-0.65,"y":0.3,"v":0.33},{"x":-0.55,"y":0.3,"v":0.22},{"x":-0.45,"y":0.3,"v":-0.02},{"x":-0.35,"y":0.3,"v":-0.21},{"x":-0.25,"y":0.3,"v":-0.24},{"x":-0.15,"y":0.3,"v":-0.25},{"x":-0.05,"y":0.3,"v":-0.25},{"x":0.05,"y":0.3,"v":-0.25},{"x":0.15,"y":0.3,"v":-0.24},{"x":0.25,"y":0.3,"v":-0.21},{"x":0.35,"y":0.3,"v":-0.02},{"x":0.45,"y":0.3,"v":0.22},{"x":0.55,"y":0.3,"v":0.33},{"x":0.65,"y":0.3,"v":0.36},
      {"x":-0.75,"y":0.1,"v":0.39},{"x":-0.65,"y":0.1,"v":0.36},{"x":-0.55,"y":0.1,"v":0.26},{"x":-0.35,"y":0.1,"v":-0.21},{"x":-0.25,"y":0.1,"v":-0.26},{"x":-0.15,"y":0.1,"v":-0.27},{"x":-0.05,"y":0.1,"v":-0.27},{"x":0.05,"y":0.1,"v":-0.27},{"x":0.15,"y":0.1,"v":-0.26},{"x":0.25,"y":0.1,"v":-0.21},{"x":0.45,"y":0.1,"v":0.26},{"x":0.55,"y":0.1,"v":0.36},{"x":0.65,"y":0.1,"v":0.39},
      {"x":-0.75,"y":-0.1,"v":0.39},{"x":-0.65,"y":-0.1,"v":0.37},{"x":-0.55,"y":-0.1,"v":0.26},{"x":-0.35,"y":-0.1,"v":-0.2},{"x":-0.25,"y":-0.1,"v":-0.26},{"x":-0.15,"y":-0.1,"v":-0.28},{"x":-0.05,"y":-0.1,"v":-0.28},{"x":0.05,"y":-0.1,"v":-0.28},{"x":0.15,"y":-0.1,"v":-0.26},{"x":0.25,"y":-0.1,"v":-0.2},{"x":0.45,"y":-0.1,"v":0.26},{"x":0.55,"y":-0.1,"v":0.37},{"x":0.65,"y":-0.1,"v":0.39},
      {"x":-0.75,"y":-0.3,"v":0.36},{"x":-0.65,"y":-0.3,"v":0.34},{"x":-0.55,"y":-0.3,"v":0.23},{"x":-0.45,"y":-0.3,"v":0.01},{"x":-0.35,"y":-0.3,"v":-0.16},{"x":-0.25,"y":-0.3,"v":-0.24},{"x":-0.15,"y":-0.3,"v":-0.27},{"x":-0.05,"y":-0.3,"v":-0.28},{"x":0.05,"y":-0.3,"v":-0.27},{"x":0.15,"y":-0.3,"v":-0.24},{"x":0.25,"y":-0.3,"v":-0.16},{"x":0.35,"y":-0.3,"v":0.01},{"x":0.45,"y":-0.3,"v":0.23},{"x":0.55,"y":-0.3,"v":0.34},{"x":0.65,"y":-0.3,"v":0.36},
      {"x":-0.75,"y":-0.5,"v":0.27},{"x":-0.65,"y":-0.5,"v":0.25},{"x":-0.55,"y":-0.5,"v":0.15},{"x":-0.45,"y":-0.5,"v":0.02},{"x":-0.35,"y":-0.5,"v":-0.06},{"x":-0.25,"y":-0.5,"v":-0.16},{"x":-0.15,"y":-0.5,"v":-0.22},{"x":-0.05,"y":-0.5,"v":-0.24},{"x":0.05,"y":-0.5,"v":-0.22},{"x":0.15,"y":-0.5,"v":-0.16},{"x":0.25,"y":-0.5,"v":-0.06},{"x":0.35,"y":-0.5,"v":0.02},{"x":0.45,"y":-0.5,"v":0.15},{"x":0.55,"y":-0.5,"v":0.25},{"x":0.65,"y":-0.5,"v":0.27},
      {"x":-0.75,"y":-0.7,"v":0.11},{"x":-0.65,"y":-0.7,"v":0.1},{"x":-0.55,"y":-0.7,"v":0.07},{"x":-0.45,"y":-0.7,"v":0.02},{"x":-0.35,"y":-0.7,"v":-0.01},{"x":-0.25,"y":-0.7,"v":-0.04},{"x":-0.15,"y":-0.7,"v":-0.07},{"x":-0.05,"y":-0.7,"v":-0.08},{"x":0.05,"y":-0.7,"v":-0.07},{"x":0.15,"y":-0.7,"v":-0.04},{"x":0.25,"y":-0.7,"v":-0.01},{"x":0.35,"y":-0.7,"v":0.02},{"x":0.45,"y":-0.7,"v":0.07},{"x":0.55,"y":-0.7,"v":0.1},{"x":0.65,"y":-0.7,"v":0.11},
      {"x":-0.75,"y":-0.9,"v":0.03},{"x":-0.65,"y":-0.9,"v":0.03},{"x":-0.55,"y":-0.9,"v":0.02},{"x":-0.45,"y":-0.9,"v":0.01},{"x":-0.25,"y":-0.9,"v":-0.01},{"x":-0.15,"y":-0.9,"v":-0.02},{"x":-0.05,"y":-0.9,"v":-0.02},{"x":0.05,"y":-0.9,"v":-0.02},{"x":0.15,"y":-0.9,"v":-0.01},{"x":0.35,"y":-0.9,"v":0.01},{"x":0.45,"y":-0.9,"v":0.02},{"x":0.55,"y":-0.9,"v":0.03},{"x":0.65,"y":-0.9,"v":0.03},
      {"x":-0.75,"y":-1.1,"v":0.01},{"x":-0.65,"y":-1.1,"v":0.01},{"x":-0.55,"y":-1.1,"v":0.01},{"x":-0.45,"y":-1.1,"v":0.01},{"x":-0.15,"y":-1.1,"v":-0.01},{"x":-0.05,"y":-1.1,"v":-0.01},{"x":0.05,"y":-1.1,"v":-0.01},{"x":0.35,"y":-1.1,"v":0.01},{"x":0.45,"y":-1.1,"v":0.01},{"x":0.55,"y":-1.1,"v":0.01},{"x":0.65,"y":-1.1,"v":0.01},
      {"x":-0.75,"y":-1.3,"v":0.01},{"x":-0.65,"y":-1.3,"v":0.01},{"x":-0.55,"y":-1.3,"v":0.01},{"x":0.45,"y":-1.3,"v":0.01},{"x":0.55,"y":-1.3,"v":0.01},{"x":0.65,"y":-1.3,"v":0.01}
    ],
    "d6": [
      {"x":-0.75,"y":0.7,"v":0.0004},{"x":-0.65,"y":0.7,"v":0.0004},{"x":-0.55,"y":0.7,"v":0.0003},{"x":-0.45,"y":0.7,"v":0.0002},{"x":0.35,"y":0.7,"v":0.0002},{"x":0.45,"y":0.7,"v":0.0003},{"x":0.55,"y":0.7,"v":0.0004},{"x":0.65,"y":0.7,"v":0.0004},
      {"x":-0.75,"y":0.5,"v":0.0015},{"x":-0.65,"y":0.5,"v":0.0014},{"x":-0.55,"y":0.5,"v":0.001},{"x":-0.45,"y":0.5,"v":0.0005},{"x":-0.35,"y":0.5,"v":0.0001},{"x":0.25,"y":0.5,"v":0.0001},{"x":0.35,"y":0.5,"v":0.0005},{"x":0.45,"y":0.5,"v":0.001},{"x":0.55,"y":0.5,"v":0.0014},{"x":0.65,"y":0.5,"v":0.0015},
      {"x":-0.75,"y":0.3,"v":0.0042},{"x":-0.65,"y":0.3,"v":0.0038},{"x":-0.55,"y":0.3,"v":0.0026},{"x":-0.45,"y":0.3,"v":0.0003},{"x":-0.35,"y":0.3,"v":-0.0014},{"x":-0.25,"y":0.3,"v":-0.0017},{"x":-0.15,"y":0.3,"v":-0.0018},{"x":-0.05,"y":0.3,"v":-0.0018},{"x":0.05,"y":0.3,"v":-0.0018},{"x":0.15,"y":0.3,"v":-0.0017},{"x":0.25,"y":0.3,"v":-0.0014},{"x":0.35,"y":0.3,"v":0.0003},{"x":0.45,"y":0.3,"v":0.0026},{"x":0.55,"y":0.3,"v":0.0038},{"x":0.65,"y":0.3,"v":0.0042},
      {"x":-0.75,"y":0.1,"v":0.0054},{"x":-0.65,"y":0.1,"v":0.005},{"x":-0.55,"y":0.1,"v":0.0033},{"x":-0.45,"y":0.1,"v":0.0001},{"x":-0.35,"y":0.1,"v":-0.002},{"x":-0.25,"y":0.1,"v":-0.0026},{"x":-0.15,"y":0.1,"v":-0.0028},{"x":-0.05,"y":0.1,"v":-0.0028},{"x":0.05,"y":0.1,"v":-0.0028},{"x":0.15,"y":0.1,"v":-0.0026},{"x":0.25,"y":0.1,"v":-0.002},{"x":0.35,"y":0.1,"v":0.0001},{"x":0.45,"y":0.1,"v":0.0033},{"x":0.55,"y":0.1,"v":0.005},{"x":0.65,"y":0.1,"v":0.0054},
      {"x":-0.75,"y":-0.1,"v":0.0054},{"x":-0.65,"y":-0.1,"v":0.005},{"x":-0.55,"y":-0.1,"v":0.0031},{"x":-0.35,"y":-0.1,"v":-0.0018},{"x":-0.25,"y":-0.1,"v":-0.0029},{"x":-0.15,"y":-0.1,"v":-0.0032},{"x":-0.05,"y":-0.1,"v":-0.0032},{"x":0.05,"y":-0.1,"v":-0.0032},{"x":0.15,"y":-0.1,"v":-0.0029},{"x":0.25,"y":-0.1,"v":-0.0018},{"x":0.45,"y":-0.1,"v":0.0031},{"x":0.55,"y":-0.1,"v":0.005},{"x":0.65,"y":-0.1,"v":0.0054},
      {"x":-0.75,"y":-0.3,"v":0.004},{"x":-0.65,"y":-0.3,"v":0.0036},{"x":-0.55,"y":-0.3,"v":0.0022},{"x":-0.45,"y":-0.3,"v":0.0001},{"x":-0.35,"y":-0.3,"v":-0.0012},{"x":-0.25,"y":-0.3,"v":-0.0027},{"x":-0.15,"y":-0.3,"v":-0.0032},{"x":-0.05,"y":-0.3,"v":-0.0033},{"x":0.05,"y":-0.3,"v":-0.0032},{"x":0.15,"y":-0.3,"v":-0.0027},{"x":0.25,"y":-0.3,"v":-0.0012},{"x":0.35,"y":-0.3,"v":0.0001},{"x":0.45,"y":-0.3,"v":0.0022},{"x":0.55,"y":-0.3,"v":0.0036},{"x":0.65,"y":-0.3,"v":0.004},
      {"x":-0.75,"y":-0.5,"v":0.0019},{"x":-0.65,"y":-0.5,"v":0.0017},{"x":-0.55,"y":-0.5,"v":0.001},{"x":-0.45,"y":-0.5,"v":0.0001},{"x":-0.35,"y":-0.5,"v":-0.0004},{"x":-0.25,"y":-0.5,"v":-0.0015},{"x":-0.15,"y":-0.5,"v":-0.0023},{"x":-0.05,"y":-0.5,"v":-0.0025},{"x":0.05,"y":-0.5,"v":-0.0023},{"x":0.15,"y":-0.5,"v":-0.0015},{"x":0.25,"y":-0.5,"v":-0.0004},{"x":0.35,"y":-0.5,"v":0.0001},{"x":0.45,"y":-0.5,"v":0.001},{"x":0.55,"y":-0.5,"v":0.0017},{"x":0.65,"y":-0.5,"v":0.0019},
      {"x":-0.75,"y":-0.7,"v":0.0003},{"x":-0.65,"y":-0.7,"v":0.0003},{"x":-0.55,"y":-0.7,"v":0.0002},{"x":-0.25,"y":-0.7,"v":-0.0002},{"x":-0.15,"y":-0.7,"v":-0.0005},{"x":-0.05,"y":-0.7,"v":-0.0006},{"x":0.05,"y":-0.7,"v":-0.0005},{"x":0.15,"y":-0.7,"v":-0.0002},{"x":0.45,"y":-0.7,"v":0.0002},{"x":0.55,"y":-0.7,"v":0.0003},{"x":0.65,"y":-0.7,"v":0.0003}
    ],
    "d7": [
      {"x":-0.75,"y":0.6,"v":0.007},{"x":-0.75,"y":0.5,"v":0.002},{"x":-0.7,"y":0.6,"v":0.0065},{"x":-0.7,"y":0.5,"v":0.0025},{"x":-0.65,"y":0.5,"v":0.0055},{"x":-0.65,"y":0.6,"v":0.003},{"x":-0.6,"y":0.5,"v":0.006},{"x":-0.55,"y":0.5,"v":0.004},{"x":-0.55,"y":0.4,"v":0.002},{"x":-0.5,"y":0.4,"v":0.004},{"x":-0.45,"y":0.3,"v":0.0025},{"x":-0.45,"y":0.4,"v":0.001},{"x":-0.4,"y":0.2,"v":0.0012},{"x":-0.4,"y":0.3,"v":0.001},{"x":-0.45,"y":0.1,"v":0.0008},{"x":-0.45,"y":0.2,"v":0.0008},
      {"x":-0.5,"y":-0.1,"v":0.0008},{"x":-0.5,"y":0.0,"v":0.0008},{"x":-0.45,"y":-0.1,"v":0.0015},{"x":-0.45,"y":0.0,"v":0.001},{"x":-0.4,"y":-0.3,"v":0.0025},{"x":-0.4,"y":-0.2,"v":0.0015},{"x":-0.35,"y":-0.4,"v":0.0035},{"x":-0.35,"y":-0.3,"v":0.002},{"x":-0.3,"y":-0.4,"v":0.005},{"x":-0.25,"y":-0.5,"v":0.0055},{"x":-0.25,"y":-0.4,"v":0.002},{"x":-0.2,"y":-0.5,"v":0.0065},{"x":-0.15,"y":-0.6,"v":0.004},{"x":-0.15,"y":-0.5,"v":0.004},{"x":-0.1,"y":-0.6,"v":0.006},{"x":-0.1,"y":-0.5,"v":0.0025},{"x":-0.05,"y":-0.6,"v":0.0065},{"x":-0.05,"y":-0.5,"v":0.002},
      {"x":0.7,"y":0.6,"v":0.007},{"x":0.7,"y":0.5,"v":0.002},{"x":0.65,"y":0.6,"v":0.0065},{"x":0.65,"y":0.5,"v":0.0025},{"x":0.6,"y":0.5,"v":0.0055},{"x":0.6,"y":0.6,"v":0.003},{"x":0.55,"y":0.5,"v":0.006},{"x":0.5,"y":0.5,"v":0.004},{"x":0.5,"y":0.4,"v":0.002},{"x":0.45,"y":0.4,"v":0.004},{"x":0.4,"y":0.3,"v":0.0025},{"x":0.4,"y":0.4,"v":0.001},{"x":0.35,"y":0.2,"v":0.0012},{"x":0.35,"y":0.3,"v":0.001},{"x":0.4,"y":0.1,"v":0.0008},{"x":0.4,"y":0.2,"v":0.0008},
      {"x":0.45,"y":-0.1,"v":0.0008},{"x":0.45,"y":0.0,"v":0.0008},{"x":0.4,"y":-0.1,"v":0.0015},{"x":0.4,"y":0.0,"v":0.001},{"x":0.35,"y":-0.3,"v":0.0025},{"x":0.35,"y":-0.2,"v":0.0015},{"x":0.3,"y":-0.4,"v":0.0035},{"x":0.3,"y":-0.3,"v":0.002},{"x":0.25,"y":-0.4,"v":0.005},{"x":0.2,"y":-0.5,"v":0.0055},{"x":0.2,"y":-0.4,"v":0.002},{"x":0.15,"y":-0.5,"v":0.0065},{"x":0.1,"y":-0.6,"v":0.004},{"x":0.1,"y":-0.5,"v":0.004},{"x":0.05,"y":-0.6,"v":0.006},{"x":0.05,"y":-0.5,"v":0.0025},{"x":0.0,"y":-0.6,"v":0.0065},{"x":0.0,"y":-0.5,"v":0.002}
    ],
    "d8": [
      {"x":-0.75,"y":0.9,"v":0.05e-4},{"x":-0.65,"y":0.9,"v":0.05e-4},{"x":-0.55,"y":0.9,"v":0.05e-4},{"x":-0.45,"y":0.9,"v":0.05e-4},{"x":-0.35,"y":0.9,"v":0.05e-4},{"x":-0.25,"y":0.9,"v":0.05e-4},{"x":-0.15,"y":0.9,"v":0.05e-4},{"x":-0.05,"y":0.9,"v":0.05e-4},{"x":0.05,"y":0.9,"v":0.05e-4},{"x":0.15,"y":0.9,"v":0.05e-4},{"x":0.25,"y":0.9,"v":0.05e-4},{"x":0.35,"y":0.9,"v":0.05e-4},{"x":0.45,"y":0.9,"v":0.05e-4},{"x":0.55,"y":0.9,"v":0.05e-4},{"x":0.65,"y":0.9,"v":0.05e-4},
      {"x":-0.75,"y":0.7,"v":0.2e-4},{"x":-0.65,"y":0.7,"v":0.2e-4},{"x":-0.55,"y":0.7,"v":0.2e-4},{"x":-0.45,"y":0.7,"v":0.15e-4},{"x":-0.35,"y":0.7,"v":0.15e-4},{"x":-0.25,"y":0.7,"v":0.15e-4},{"x":-0.15,"y":0.7,"v":0.15e-4},{"x":-0.05,"y":0.7,"v":0.15e-4},{"x":0.05,"y":0.7,"v":0.15e-4},{"x":0.15,"y":0.7,"v":0.15e-4},{"x":0.25,"y":0.7,"v":0.15e-4},{"x":0.35,"y":0.7,"v":0.15e-4},{"x":0.45,"y":0.7,"v":0.2e-4},{"x":0.55,"y":0.7,"v":0.2e-4},{"x":0.65,"y":0.7,"v":0.2e-4},
      {"x":-0.75,"y":0.5,"v":0.7e-4},{"x":-0.65,"y":0.5,"v":0.7e-4},{"x":-0.55,"y":0.5,"v":0.6e-4},{"x":-0.45,"y":0.5,"v":0.5e-4},{"x":-0.35,"y":0.5,"v":0.45e-4},{"x":-0.25,"y":0.5,"v":0.4e-4},{"x":-0.15,"y":0.5,"v":0.35e-4},{"x":-0.05,"y":0.5,"v":0.35e-4},{"x":0.05,"y":0.5,"v":0.35e-4},{"x":0.15,"y":0.5,"v":0.4e-4},{"x":0.25,"y":0.5,"v":0.45e-4},{"x":0.35,"y":0.5,"v":0.5e-4},{"x":0.45,"y":0.5,"v":0.6e-4},{"x":0.55,"y":0.5,"v":0.7e-4},{"x":0.65,"y":0.5,"v":0.7e-4},
      {"x":-0.75,"y":0.3,"v":0.9e-4},{"x":-0.65,"y":0.3,"v":0.9e-4},{"x":-0.55,"y":0.3,"v":0.8e-4},{"x":-0.45,"y":0.3,"v":0.65e-4},{"x":-0.35,"y":0.3,"v":0.6e-4},{"x":-0.25,"y":0.3,"v":0.5e-4},{"x":-0.15,"y":0.3,"v":0.45e-4},{"x":-0.05,"y":0.3,"v":0.45e-4},{"x":0.05,"y":0.3,"v":0.45e-4},{"x":0.15,"y":0.3,"v":0.5e-4},{"x":0.25,"y":0.3,"v":0.6e-4},{"x":0.35,"y":0.3,"v":0.65e-4},{"x":0.45,"y":0.3,"v":0.8e-4},{"x":0.55,"y":0.3,"v":0.9e-4},{"x":0.65,"y":0.3,"v":0.9e-4},
      {"x":-0.75,"y":0.1,"v":0.35e-4},{"x":-0.65,"y":0.1,"v":0.35e-4},{"x":-0.55,"y":0.1,"v":0.3e-4},{"x":-0.45,"y":0.1,"v":0.3e-4},{"x":-0.35,"y":0.1,"v":0.35e-4},{"x":-0.25,"y":0.1,"v":0.3e-4},{"x":-0.15,"y":0.1,"v":0.25e-4},{"x":-0.05,"y":0.1,"v":0.25e-4},{"x":0.05,"y":0.1,"v":0.25e-4},{"x":0.15,"y":0.1,"v":0.3e-4},{"x":0.25,"y":0.1,"v":0.35e-4},{"x":0.35,"y":0.1,"v":0.3e-4},{"x":0.45,"y":0.1,"v":0.3e-4},{"x":0.55,"y":0.1,"v":0.35e-4},{"x":0.65,"y":0.1,"v":0.35e-4},
      {"x":-0.75,"y":-0.1,"v":-0.3e-4},{"x":-0.65,"y":-0.1,"v":-0.3e-4},{"x":-0.55,"y":-0.1,"v":-0.2e-4},{"x":-0.45,"y":-0.1,"v":-0.1e-4},{"x":-0.25,"y":-0.1,"v":0.05e-4},{"x":-0.15,"y":-0.1,"v":0.08e-4},{"x":-0.05,"y":-0.1,"v":0.1e-4},{"x":0.05,"y":-0.1,"v":0.08e-4},{"x":0.15,"y":-0.1,"v":0.05e-4},{"x":0.35,"y":-0.1,"v":-0.1e-4},{"x":0.45,"y":-0.1,"v":-0.2e-4},{"x":0.55,"y":-0.1,"v":-0.3e-4},{"x":0.65,"y":-0.1,"v":-0.3e-4},
      {"x":-0.75,"y":-0.3,"v":-0.55e-4},{"x":-0.65,"y":-0.3,"v":-0.55e-4},{"x":-0.55,"y":-0.3,"v":-0.5e-4},{"x":-0.45,"y":-0.3,"v":-0.45e-4},{"x":-0.35,"y":-0.3,"v":-0.4e-4},{"x":-0.25,"y":-0.3,"v":-0.3e-4},{"x":-0.15,"y":-0.3,"v":-0.25e-4},{"x":-0.05,"y":-0.3,"v":-0.2e-4},{"x":0.05,"y":-0.3,"v":-0.25e-4},{"x":0.15,"y":-0.3,"v":-0.3e-4},{"x":0.25,"y":-0.3,"v":-0.4e-4},{"x":0.35,"y":-0.3,"v":-0.45e-4},{"x":0.45,"y":-0.3,"v":-0.5e-4},{"x":0.55,"y":-0.3,"v":-0.55e-4},{"x":0.65,"y":-0.3,"v":-0.55e-4},
      {"x":-0.75,"y":-0.5,"v":-0.3e-4},{"x":-0.65,"y":-0.5,"v":-0.3e-4},{"x":-0.55,"y":-0.5,"v":-0.35e-4},{"x":-0.45,"y":-0.5,"v":-0.4e-4},{"x":-0.35,"y":-0.5,"v":-0.45e-4},{"x":-0.25,"y":-0.5,"v":-0.5e-4},{"x":-0.15,"y":-0.5,"v":-0.5e-4},{"x":-0.05,"y":-0.5,"v":-0.5e-4},{"x":0.05,"y":-0.5,"v":-0.5e-4},{"x":0.15,"y":-0.5,"v":-0.5e-4},{"x":0.25,"y":-0.5,"v":-0.45e-4},{"x":0.35,"y":-0.5,"v":-0.4e-4},{"x":0.45,"y":-0.5,"v":-0.35e-4},{"x":0.55,"y":-0.5,"v":-0.3e-4},{"x":0.65,"y":-0.5,"v":-0.3e-4},
      {"x":-0.75,"y":-0.7,"v":-0.05e-4},{"x":-0.65,"y":-0.7,"v":-0.05e-4},{"x":-0.55,"y":-0.7,"v":-0.08e-4},{"x":-0.45,"y":-0.7,"v":-0.12e-4},{"x":-0.35,"y":-0.7,"v":-0.2e-4},{"x":-0.25,"y":-0.7,"v":-0.3e-4},{"x":-0.15,"y":-0.7,"v":-0.35e-4},{"x":-0.05,"y":-0.7,"v":-0.4e-4},{"x":0.05,"y":-0.7,"v":-0.35e-4},{"x":0.15,"y":-0.7,"v":-0.3e-4},{"x":0.25,"y":-0.7,"v":-0.2e-4},{"x":0.35,"y":-0.7,"v":-0.12e-4},{"x":0.45,"y":-0.7,"v":-0.08e-4},{"x":0.55,"y":-0.7,"v":-0.05e-4},{"x":0.65,"y":-0.7,"v":-0.05e-4},
      {"x":-0.55,"y":-0.9,"v":-0.01e-4},{"x":-0.45,"y":-0.9,"v":-0.02e-4},{"x":-0.35,"y":-0.9,"v":-0.04e-4},{"x":-0.25,"y":-0.9,"v":-0.06e-4},{"x":-0.15,"y":-0.9,"v":-0.08e-4},{"x":-0.05,"y":-0.9,"v":-0.1e-4},{"x":0.05,"y":-0.9,"v":-0.08e-4},{"x":0.15,"y":-0.9,"v":-0.06e-4},{"x":0.25,"y":-0.9,"v":-0.04e-4},{"x":0.35,"y":-0.9,"v":-0.02e-4},{"x":0.45,"y":-0.9,"v":-0.01e-4}
    ]
  },
  "concat": [
    {
      "width": 99, "height": 192, "data": {"name": "d1"},
      "title": "⁵⁄₂uᵧp/n₀v³ₜₕ,c",
      "mark": {"type": "rect", "binSpacing": 0, "clip": true},
      "encoding": {
        "x": {"field": "x", "type": "quantitative", "bin": {"binned": true, "step": 0.1}, "scale": {"domain": [-0.74, 0.74], "nice": false, "zero": false}, "axis": {"values": [-0.4, 0, 0.4], "format": ".1f", "title": "x"}},
        "y": {"field": "y", "type": "quantitative", "bin": {"binned": true, "step": 0.2}, "scale": {"domain": [-1.5, 1.5], "nice": false, "zero": false}, "axis": {"values": [-1.5, -1, -0.5, 0, 0.5, 1, 1.5], "format": ".1f", "labelExpr": "replace(datum.label, '−', '-')", "title": "y", "titlePadding": 7}},
        "color": {"field": "v", "type": "quantitative", "scale": {"domain": [-0.3973, 0.3973], "scheme": {"name": "redblue", "extent": [1, 0]}, "clamp": true}, "legend": {"type": "gradient", "orient": "none", "legendX": 105, "legendY": 8, "direction": "vertical", "gradientLength": 176, "gradientThickness": 5, "title": null, "values": [-0.3973, -0.1986, 0, 0.1986, 0.3973], "format": ".4f", "labelExpr": "replace(datum.label, '−', '-')", "labelOverlap": false}}
      }
    },
    {
      "width": 99, "height": 192, "data": {"name": "d2"},
      "title": "½mnuᵧ𝐮²/n₀v³ₜₕ,c",
      "mark": {"type": "rect", "binSpacing": 0, "clip": true},
      "encoding": {
        "x": {"field": "x", "type": "quantitative", "bin": {"binned": true, "step": 0.1}, "scale": {"domain": [-0.74, 0.74], "nice": false, "zero": false}, "axis": {"values": [-0.4, 0, 0.4], "format": ".1f", "title": "x"}},
        "y": {"field": "y", "type": "quantitative", "bin": {"binned": true, "step": 0.2}, "scale": {"domain": [-1.5, 1.5], "nice": false, "zero": false}, "axis": {"values": [-1.5, -1, -0.5, 0, 0.5, 1, 1.5], "labels": false, "title": null}},
        "color": {"field": "v", "type": "quantitative", "scale": {"domain": [-0.0058, 0.0058], "scheme": {"name": "redblue", "extent": [1, 0]}, "clamp": true}, "legend": {"type": "gradient", "orient": "none", "legendX": 105, "legendY": 8, "direction": "vertical", "gradientLength": 176, "gradientThickness": 5, "title": null, "values": [-0.0058, -0.0029, 0, 0.0029, 0.0058], "format": ".4f", "labelExpr": "replace(datum.label, '−', '-')", "labelOverlap": false}}
      }
    },
    {
      "width": 99, "height": 192, "data": {"name": "d3"},
      "title": "qᵧ/n₀v³ₜₕ,c",
      "mark": {"type": "rect", "binSpacing": 0, "clip": true},
      "encoding": {
        "x": {"field": "x", "type": "quantitative", "bin": {"binned": true, "step": 0.1}, "scale": {"domain": [-0.74, 0.74], "nice": false, "zero": false}, "axis": {"values": [-0.4, 0, 0.4], "format": ".1f", "title": "x"}},
        "y": {"field": "y", "type": "quantitative", "bin": {"binned": true, "step": 0.2}, "scale": {"domain": [-1.5, 1.5], "nice": false, "zero": false}, "axis": {"values": [-1.5, -1, -0.5, 0, 0.5, 1, 1.5], "labels": false, "title": null}},
        "color": {"field": "v", "type": "quantitative", "scale": {"domain": [-0.0152, 0.0152], "scheme": {"name": "redblue", "extent": [1, 0]}, "clamp": true}, "legend": {"type": "gradient", "orient": "none", "legendX": 105, "legendY": 8, "direction": "vertical", "gradientLength": 176, "gradientThickness": 5, "title": null, "values": [-0.0152, -0.0076, 0, 0.0076, 0.0152], "format": ".4f", "labelExpr": "replace(datum.label, '−', '-')", "labelOverlap": false}}
      }
    },
    {
      "width": 99, "height": 192, "data": {"name": "d4"},
      "title": "uᵢΠᵢᵧ/n₀v³ₜₕ,c",
      "mark": {"type": "rect", "binSpacing": 0, "clip": true},
      "encoding": {
        "x": {"field": "x", "type": "quantitative", "bin": {"binned": true, "step": 0.1}, "scale": {"domain": [-0.74, 0.74], "nice": false, "zero": false}, "axis": {"values": [-0.4, 0, 0.4], "format": ".1f", "title": "x"}},
        "y": {"field": "y", "type": "quantitative", "bin": {"binned": true, "step": 0.2}, "scale": {"domain": [-1.5, 1.5], "nice": false, "zero": false}, "axis": {"values": [-1.5, -1, -0.5, 0, 0.5, 1, 1.5], "labels": false, "title": null}},
        "color": {"field": "v", "type": "quantitative", "scale": {"domain": [-0.0002, 0.0002], "scheme": {"name": "redblue", "extent": [1, 0]}, "clamp": true}, "legend": {"type": "gradient", "orient": "none", "legendX": 105, "legendY": 8, "direction": "vertical", "gradientLength": 176, "gradientThickness": 5, "title": null, "values": [-0.0002, -0.0001, 0, 0.0001, 0.0002], "format": ".4f", "labelExpr": "replace(datum.label, '−', '-')", "labelOverlap": false}}
      }
    },
    {
      "width": 99, "height": 192, "data": {"name": "d5"},
      "mark": {"type": "rect", "binSpacing": 0, "clip": true},
      "encoding": {
        "x": {"field": "x", "type": "quantitative", "bin": {"binned": true, "step": 0.1}, "scale": {"domain": [-0.74, 0.74], "nice": false, "zero": false}, "axis": {"values": [-0.4, 0, 0.4], "format": ".1f", "title": "x"}},
        "y": {"field": "y", "type": "quantitative", "bin": {"binned": true, "step": 0.2}, "scale": {"domain": [-1.5, 1.5], "nice": false, "zero": false}, "axis": {"values": [-1.5, -1, -0.5, 0, 0.5, 1, 1.5], "format": ".1f", "labelExpr": "replace(datum.label, '−', '-')", "title": "y", "titlePadding": 7}},
        "color": {"field": "v", "type": "quantitative", "scale": {"domain": [-0.3973, 0.3973], "scheme": {"name": "redblue", "extent": [1, 0]}, "clamp": true}, "legend": {"type": "gradient", "orient": "none", "legendX": 105, "legendY": 8, "direction": "vertical", "gradientLength": 176, "gradientThickness": 5, "title": null, "values": [-0.3973, -0.1986, 0, 0.1986, 0.3973], "format": ".4f", "labelExpr": "replace(datum.label, '−', '-')", "labelOverlap": false}}
      }
    },
    {
      "width": 99, "height": 192, "data": {"name": "d6"},
      "mark": {"type": "rect", "binSpacing": 0, "clip": true},
      "encoding": {
        "x": {"field": "x", "type": "quantitative", "bin": {"binned": true, "step": 0.1}, "scale": {"domain": [-0.74, 0.74], "nice": false, "zero": false}, "axis": {"values": [-0.4, 0, 0.4], "format": ".1f", "title": "x"}},
        "y": {"field": "y", "type": "quantitative", "bin": {"binned": true, "step": 0.2}, "scale": {"domain": [-1.5, 1.5], "nice": false, "zero": false}, "axis": {"values": [-1.5, -1, -0.5, 0, 0.5, 1, 1.5], "labels": false, "title": null}},
        "color": {"field": "v", "type": "quantitative", "scale": {"domain": [-0.0058, 0.0058], "scheme": {"name": "redblue", "extent": [1, 0]}, "clamp": true}, "legend": {"type": "gradient", "orient": "none", "legendX": 105, "legendY": 8, "direction": "vertical", "gradientLength": 176, "gradientThickness": 5, "title": null, "values": [-0.0058, -0.0029, 0, 0.0029, 0.0058], "format": ".4f", "labelExpr": "replace(datum.label, '−', '-')", "labelOverlap": false}}
      }
    },
    {
      "width": 99, "height": 192, "data": {"name": "d7"},
      "mark": {"type": "rect", "binSpacing": 0, "clip": true},
      "encoding": {
        "x": {"field": "x", "type": "quantitative", "bin": {"binned": true, "step": 0.05}, "scale": {"domain": [-0.74, 0.74], "nice": false, "zero": false}, "axis": {"values": [-0.4, 0, 0.4], "format": ".1f", "title": "x"}},
        "y": {"field": "y", "type": "quantitative", "bin": {"binned": true, "step": 0.1}, "scale": {"domain": [-1.5, 1.5], "nice": false, "zero": false}, "axis": {"values": [-1.5, -1, -0.5, 0, 0.5, 1, 1.5], "labels": false, "title": null}},
        "color": {"field": "v", "type": "quantitative", "scale": {"domain": [-0.0152, 0.0152], "scheme": {"name": "redblue", "extent": [1, 0]}, "clamp": true}, "legend": {"type": "gradient", "orient": "none", "legendX": 105, "legendY": 8, "direction": "vertical", "gradientLength": 176, "gradientThickness": 5, "title": null, "values": [-0.0152, -0.0076, 0, 0.0076, 0.0152], "format": ".4f", "labelExpr": "replace(datum.label, '−', '-')", "labelOverlap": false}}
      }
    },
    {
      "width": 99, "height": 192, "data": {"name": "d8"},
      "mark": {"type": "rect", "binSpacing": 0, "clip": true},
      "encoding": {
        "x": {"field": "x", "type": "quantitative", "bin": {"binned": true, "step": 0.1}, "scale": {"domain": [-0.74, 0.74], "nice": false, "zero": false}, "axis": {"values": [-0.4, 0, 0.4], "format": ".1f", "title": "x"}},
        "y": {"field": "y", "type": "quantitative", "bin": {"binned": true, "step": 0.2}, "scale": {"domain": [-1.5, 1.5], "nice": false, "zero": false}, "axis": {"values": [-1.5, -1, -0.5, 0, 0.5, 1, 1.5], "labels": false, "title": null}},
        "color": {"field": "v", "type": "quantitative", "scale": {"domain": [-0.0002, 0.0002], "scheme": {"name": "redblue", "extent": [1, 0]}, "clamp": true}, "legend": {"type": "gradient", "orient": "none", "legendX": 105, "legendY": 8, "direction": "vertical", "gradientLength": 176, "gradientThickness": 5, "title": null, "values": [-0.0002, -0.0001, 0, 0.0001, 0.0002], "format": ".4f", "labelExpr": "replace(datum.label, '−', '-')", "labelOverlap": false}}
      }
    }
  ]
}
